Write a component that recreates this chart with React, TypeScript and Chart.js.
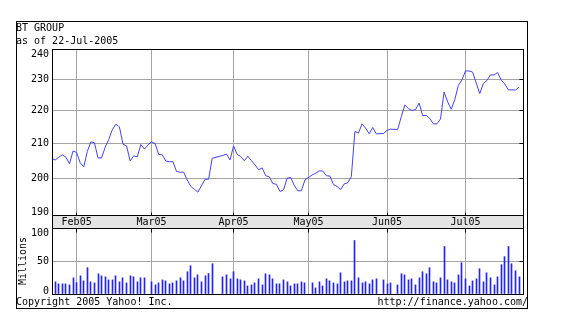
import React, { useEffect, useRef } from 'react';
import { Chart, registerables } from 'chart.js';

Chart.register(...registerables);

// ---------- text ----------
const TITLE = 'BT GROUP';
const SUBTITLE = 'as of 22-Jul-2005';
const COPYRIGHT = 'Copyright 2005 Yahoo! Inc.';
const SOURCE_URL = 'http://finance.yahoo.com/';
const VOLUME_TITLE = 'Millions';

// ---------- categories (trading weekdays) ----------
const START_DATE = '2005-01-20';
const END_DATE = '2005-07-22';

// month gridlines (date of the gridline) and their labels
const MONTH_TICK_DATES = ['2005-01-31', '2005-03-01', '2005-04-01', '2005-05-02', '2005-06-01', '2005-07-01'];
const MONTH_TICK_LABELS = ['Feb05', 'Mar05', 'Apr05', 'May05', 'Jun05', 'Jul05'];

const PRICE_TICKS = [190, 200, 210, 220, 230, 240];
const VOLUME_TICKS = [0, 50, 100];

// ---------- series (one value per weekday, null = no trading) ----------
const PRICE = [
  205.7, 205.3, 206.1, 206.8, 206.1, 204.2, 207.9, 207.5, 204.5, 203.3,
  207.8, 210.6, 210.3, 205.9, 205.9, 209.0, 211.3, 214.2, 215.9, 215.1,
  209.9, 209.4, 205.0, 206.5, 206.2, 209.8, 208.5, 209.7, 210.6, 210.1,
  206.9, 206.8, 205.0, 204.8, 204.8, 202.0, 201.8, 201.8, 199.6, 197.8,
  197.0, 196.2, 198.0, 199.8, 199.8, 205.8, null, null, 206.6, 207.0,
  205.3, 209.4, 206.9, 206.3, 205.1, 206.4, 205.1, 203.9, 202.5, 203.0,
  200.8, 200.5, 198.6, 198.4, 196.4, 196.8, 200.1, 200.3, 198.1, 196.6,
  196.6, 199.6, null, 201.0, 201.5, 202.2, 202.1, 200.8, 200.7, 198.3,
  197.8, 196.9, 198.5, 198.8, 200.5, 213.7, 213.2, 216.0, 214.7, 213.0,
  214.9, 213.0, null, 213.1, 214.0, 214.4, null, 214.3, 218.2, 221.8,
  220.7, 220.1, 220.4, 222.4, 218.5, 218.6, 217.6, 216.0, 216.0, 217.5,
  225.9, 222.8, 220.5, 223.5, 228.0, 229.8, 232.7, 232.7, 232.3, 228.8,
  225.4, 228.6, 229.6, 231.4, 231.4, 232.2, 229.7, 228.5, 226.6, 226.6,
  226.5, 227.5,
];

const VOLUME = [
  null, 18.4, 15.3, 15.3, 15.3, 13.8, 24.5, 17.3, 27.5, 19.9,
  39.8, 18.4, 16.8, 30.6, 27.5, 26.0, 21.4, 21.4, 27.5, 18.4,
  24.5, 16.8, 27.5, 26.0, 18.4, 24.5, 24.5, null, 18.4, 13.8,
  16.8, 21.4, 19.9, 15.3, 16.8, 19.9, 24.5, 19.9, 33.7, 42.8,
  24.5, 29.0, 18.4, 27.5, 31.0, 45.9, null, null, 26.0, 29.0,
  23.0, 33.7, 23.0, 21.4, 19.9, 12.2, 13.8, 16.8, 23.0, 13.8,
  30.6, 29.0, 23.0, 15.3, 15.3, 21.4, 18.4, 12.2, 15.3, 15.3,
  18.4, 16.8, null, 16.8, 9.2, 18.4, 12.2, 23.0, 19.9, 16.8,
  15.3, 32.1, 18.4, 19.9, 19.9, 81.0, 24.5, 16.8, 18.4, 15.3,
  21.4, 23.0, null, 21.4, 15.3, 16.8, null, 13.8, 30.6, 29.0,
  21.4, 23.0, 13.8, 24.5, 33.7, 30.6, 39.8, 18.4, 16.8, 24.5,
  72.0, 21.4, 18.4, 16.8, 29.0, 47.4, 23.0, 12.2, 19.9, 23.0,
  38.3, 18.4, 32.1, 24.5, 13.8, 26.0, 44.4, 56.6, 72.0, 45.9,
  35.2, 26.0,
];

// ---------- styling ----------
const FONT_FAMILY = '"DejaVu Sans Mono", monospace';
const FONT = '10px ' + FONT_FAMILY;
const GRID = '#a4a4a4';
const BAND = '#e4e4e4';
const LINE_COLOR = '#4141ff';
const BAR_COLOR = '#2222ff';
const X_MIN = 0.1;
const X_MAX = 132.4;

function weekdaysBetween(a: string, b: string): string[] {
  const out: string[] = [];
  const d = new Date(a + 'T00:00:00Z');
  const e = new Date(b + 'T00:00:00Z');
  while (d <= e) {
    const w = d.getUTCDay();
    if (w !== 0 && w !== 6) out.push(d.toISOString().slice(0, 10));
    d.setUTCDate(d.getUTCDate() + 1);
  }
  return out;
}

const DAYS = weekdaysBetween(START_DATE, END_DATE);
const MONTH_TICK_INDEX = MONTH_TICK_DATES.map((d) => DAYS.indexOf(d));

const pricePoints = PRICE.map((v, i) => (v == null ? null : { x: i, y: v })).filter(Boolean) as { x: number; y: number }[];
const volumePoints = VOLUME.map((v, i) => (v == null ? null : { x: i, y: v })).filter(Boolean) as { x: number; y: number }[];

const al = (p: number) => Math.round(p - 0.5) + 0.5;

function drawYLabels(chart: any, ticks: number[]) {
  const { ctx, chartArea } = chart;
  const y = chart.scales.y;
  ctx.save();
  ctx.font = FONT;
  ctx.fillStyle = '#000';
  ctx.textAlign = 'right';
  ctx.textBaseline = 'middle';
  ticks.forEach((v) => {
    let p = y.getPixelForValue(v);
    p = Math.min(Math.max(p, chartArea.top + 5), chartArea.bottom - 2.5);
    ctx.fillText(String(v), 49, p);
  });
  ctx.restore();
}

const pricePlugin = {
  id: 'pricePlugin',
  beforeDraw(chart: any) {
    const { ctx, chartArea } = chart;
    ctx.save();
    ctx.fillStyle = BAND;
    ctx.fillRect(chartArea.left, chartArea.bottom, chartArea.right - chartArea.left, 13);
    ctx.restore();
  },
  afterDraw(chart: any) {
    const { ctx, chartArea } = chart;
    const xs = chart.scales.x;
    const ys = chart.scales.y;
    const L = al(chartArea.left);
    const R = al(chartArea.right - 1);
    const T = al(chartArea.top);
    const B = al(chartArea.bottom);
    ctx.save();
    ctx.strokeStyle = '#000';
    ctx.lineWidth = 1;
    // plot frame + date band frame
    ctx.strokeRect(L, T, R - L, B - T);
    ctx.strokeRect(L, B, R - L, 13);
    ctx.beginPath();
    MONTH_TICK_INDEX.forEach((i) => {
      const px = al(xs.getPixelForValue(i));
      ctx.moveTo(px, B - 3);
      ctx.lineTo(px, B);
    });
    PRICE_TICKS.forEach((v) => {
      const py = al(ys.getPixelForValue(v));
      ctx.moveTo(R - 4, py);
      ctx.lineTo(R, py);
    });
    ctx.stroke();
    // outer frame
    ctx.strokeRect(16.5, 21.5, 511, 287);
    // header
    ctx.font = FONT;
    ctx.fillStyle = '#000';
    ctx.textAlign = 'left';
    ctx.textBaseline = 'alphabetic';
    ctx.fillText(TITLE, 16, 31);
    ctx.fillText(SUBTITLE, 16, 44);
    ctx.restore();
    drawYLabels(chart, PRICE_TICKS);
  },
};

const volumePlugin = {
  id: 'volumePlugin',
  beforeDatasetsDraw(chart: any) {
    const meta = chart.getDatasetMeta(0);
    meta.data.forEach((el: any) => {
      el.x = Math.round(el.x - 0.5) + 0.5;
    });
  },
  afterDraw(chart: any) {
    const { ctx, chartArea } = chart;
    const xs = chart.scales.x;
    const ys = chart.scales.y;
    const L = al(chartArea.left);
    const R = al(chartArea.right - 1);
    const T = al(chartArea.top);
    const B = al(chartArea.bottom);
    ctx.save();
    ctx.strokeStyle = '#000';
    ctx.lineWidth = 1;
    ctx.strokeRect(L, T, R - L, B - T);
    ctx.beginPath();
    MONTH_TICK_INDEX.forEach((i) => {
      const px = al(xs.getPixelForValue(i));
      ctx.moveTo(px, T);
      ctx.lineTo(px, T + 4);
    });
    VOLUME_TICKS.forEach((v) => {
      const py = al(ys.getPixelForValue(v));
      ctx.moveTo(R - 4, py);
      ctx.lineTo(R, py);
    });
    ctx.stroke();
    ctx.font = FONT;
    ctx.fillStyle = '#000';
    ctx.textBaseline = 'alphabetic';
    ctx.textAlign = 'left';
    ctx.fillText(COPYRIGHT, 16, 305);
    ctx.textAlign = 'right';
    ctx.fillText(SOURCE_URL, 528, 305);
    ctx.restore();
    drawYLabels(chart, VOLUME_TICKS);
  },
};

const monthTicks = (s: any) => {
  s.ticks = MONTH_TICK_INDEX.map((v) => ({ value: v }));
};

export default function App() {
  const priceRef = useRef<HTMLCanvasElement | null>(null);
  const volRef = useRef<HTMLCanvasElement | null>(null);

  useEffect(() => {
    const priceChart = new Chart(priceRef.current as HTMLCanvasElement, {
      type: 'line',
      data: {
        datasets: [
          {
            data: pricePoints,
            borderColor: LINE_COLOR,
            borderWidth: 1,
            pointRadius: 0,
            spanGaps: true,
            tension: 0,
            fill: false,
          },
        ],
      },
      options: {
        animation: false,
        responsive: false,
        devicePixelRatio: 1,
        events: [],
        layout: { padding: { left: 0, top: 49, right: 45, bottom: 107 }, autoPadding: false },
        plugins: { legend: { display: false }, tooltip: { enabled: false } },
        scales: {
          x: {
            type: 'linear',
            min: X_MIN,
            max: X_MAX,
            offset: false,
            afterBuildTicks: monthTicks,
            afterFit: (s: any) => {
              s.height = 13;
            },
            grid: { color: GRID, drawTicks: false, lineWidth: 1 },
            border: { display: false },
            ticks: {
              autoSkip: false,
              maxRotation: 0,
              minRotation: 0,
              padding: 1,
              color: '#000',
              font: { family: FONT_FAMILY, size: 10 },
              callback: (v: any) => {
                const k = MONTH_TICK_INDEX.indexOf(Number(v));
                return k >= 0 ? MONTH_TICK_LABELS[k] : '';
              },
            },
          },
          y: {
            type: 'logarithmic',
            min: 190,
            max: 240,
            afterBuildTicks: (s: any) => {
              s.ticks = PRICE_TICKS.map((v) => ({ value: v }));
            },
            afterFit: (s: any) => {
              s.width = 52;
            },
            grid: { color: GRID, drawTicks: false, lineWidth: 1 },
            border: { display: false },
            ticks: { display: false },
          },
        },
      },
      plugins: [pricePlugin],
    } as any);

    const volumeChart = new Chart(volRef.current as HTMLCanvasElement, {
      type: 'bar',
      data: {
        datasets: [
          {
            data: volumePoints,
            backgroundColor: BAR_COLOR,
            borderWidth: 0,
            barThickness: 1,
          },
        ],
      },
      options: {
        animation: false,
        responsive: false,
        devicePixelRatio: 1,
        events: [],
        layout: { padding: { left: 0, top: 228, right: 45, bottom: 41 }, autoPadding: false },
        plugins: { legend: { display: false }, tooltip: { enabled: false } },
        scales: {
          x: {
            type: 'linear',
            min: X_MIN,
            max: X_MAX,
            offset: false,
            afterBuildTicks: monthTicks,
            afterFit: (s: any) => {
              s.height = 0;
            },
            grid: { color: GRID, drawTicks: false, lineWidth: 1, offset: false },
            border: { display: false },
            ticks: { display: false },
          },
          y: {
            type: 'linear',
            min: 0,
            max: 100,
            afterBuildTicks: (s: any) => {
              s.ticks = VOLUME_TICKS.map((v) => ({ value: v }));
            },
            afterFit: (s: any) => {
              s.width = 52;
            },
            grid: { color: GRID, drawTicks: false, lineWidth: 1 },
            border: { display: false },
            ticks: { display: false },
            title: {
              display: true,
              text: VOLUME_TITLE,
              color: '#000',
              font: { family: FONT_FAMILY, size: 10 },
              padding: { top: 17, bottom: 0 },
            },
          },
        },
      },
      plugins: [volumePlugin],
    } as any);

    return () => {
      priceChart.destroy();
      volumeChart.destroy();
    };
  }, []);

  const cs: React.CSSProperties = { position: 'absolute', left: 0, top: 0, width: 569, height: 335 };
  return (
    <div style={{ position: 'fixed', left: 0, top: 0, width: 569, height: 335, background: '#fff' }}>
      <canvas ref={priceRef} width={569} height={335} style={cs} />
      <canvas ref={volRef} width={569} height={335} style={cs} />
    </div>
  );
}
